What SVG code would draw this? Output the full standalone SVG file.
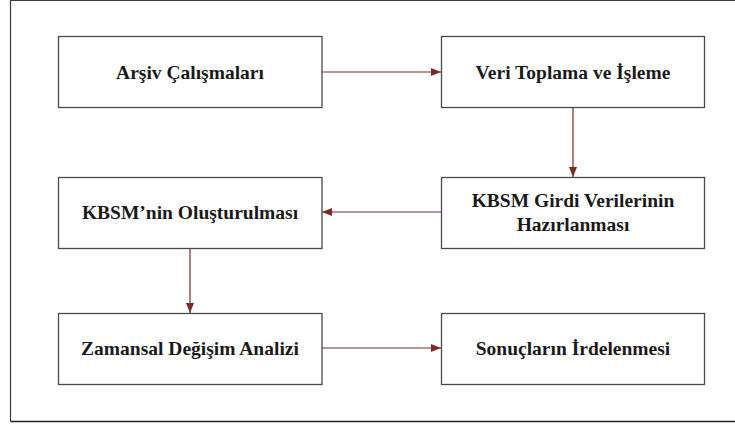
<svg xmlns="http://www.w3.org/2000/svg" width="735" height="425" viewBox="0 0 735 425">
<style>
.box{fill:#fff;stroke:#4a4a4a;stroke-width:1.3}
.lbl{font-family:"Liberation Serif","Times New Roman",serif;font-weight:bold;font-size:19.5px;fill:#1a1a1a;text-anchor:middle}
.con{stroke:#7b2a26;stroke-width:1.2;fill:none;marker-end:url(#ah)}
</style>
<defs>
<marker id="ah" viewBox="0 0 10 8" refX="10" refY="4" markerWidth="10" markerHeight="8" markerUnits="userSpaceOnUse" orient="auto">
<path d="M0,0 L10,4 L0,8 Z" fill="#7b2a26"/>
</marker>
</defs>
<rect x="0" y="0" width="735" height="425" fill="#fff"/>
<path d="M10.5,421.5 V0.5 H736" fill="none" stroke="#3a3a3a" stroke-width="1.2"/>
<path d="M10.5,421.5 H736" fill="none" stroke="#222" stroke-width="1.4"/>
<g id="connectors">
<line class="con" x1="322" y1="72" x2="441" y2="72"/>
<line class="con" x1="573" y1="107" x2="573" y2="177"/>
<line class="con" x1="441" y1="212" x2="322" y2="212"/>
<line class="con" x1="190" y1="248" x2="190" y2="313"/>
<line class="con" x1="322" y1="348" x2="441" y2="348"/>
</g>
<g id="n1"><rect class="box" x="58.5" y="36.5" width="263.5" height="71"/><text class="lbl" x="190" y="79">Arşiv Çalışmaları</text></g>
<g id="n2"><rect class="box" x="441.5" y="36.5" width="263" height="71"/><text class="lbl" x="573" y="79">Veri Toplama ve İşleme</text></g>
<g id="n3"><rect class="box" x="441.5" y="177.5" width="263" height="71"/><text class="lbl" x="573" y="207">KBSM Girdi Verilerinin</text><text class="lbl" x="573" y="231">Hazırlanması</text></g>
<g id="n4"><rect class="box" x="58.5" y="177.5" width="263.5" height="71"/><text class="lbl" x="190" y="219">KBSM’nin Oluşturulması</text></g>
<g id="n5"><rect class="box" x="58.5" y="313.5" width="263.5" height="71"/><text class="lbl" x="190" y="355">Zamansal Değişim Analizi</text></g>
<g id="n6"><rect class="box" x="441.5" y="313.5" width="263" height="71"/><text class="lbl" x="573" y="355">Sonuçların İrdelenmesi</text></g>
</svg>
